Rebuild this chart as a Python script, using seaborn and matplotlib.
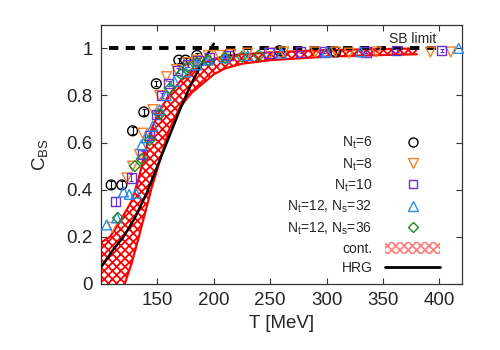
import matplotlib

matplotlib.use("Agg")
import matplotlib.pyplot as plt
from matplotlib.lines import Line2D
from matplotlib.patches import Patch
import numpy as np
import pandas as pd
import seaborn as sns

# --- data ------------------------------------------------------------------
nt6_T = [109, 118.5, 128, 138, 149, 169, 175, 185, 214, 258, 308]
nt6_C = [0.42, 0.42, 0.65, 0.73, 0.85, 0.95, 0.95, 0.97, 0.98, 0.99, 0.985]
nt6_err = [0.015, 0.015, 0.015, 0.012, 0.01, 0.01, 0.01, 0.01, 0.008, 0.008, 0.008]

nt8_T = [110, 123, 128, 134, 137, 146, 152, 158, 167, 177, 185, 195, 205, 215,
         230, 250, 262, 290, 308, 320, 344, 392, 410]
nt8_C = [0.24, 0.45, 0.50, 0.55, 0.64, 0.74, 0.80, 0.88, 0.91, 0.94, 0.95, 0.97,
         0.97, 0.975, 0.98, 0.98, 0.985, 0.985, 0.985, 0.98, 0.985, 0.985, 0.985]

nt10_T = [113, 127, 137, 143, 149, 154, 160, 168, 177, 186, 196, 213, 249, 277,
          298, 335, 362, 402]
nt10_C = [0.35, 0.45, 0.55, 0.63, 0.72, 0.80, 0.85, 0.905, 0.93, 0.95, 0.96,
          0.97, 0.98, 0.985, 0.985, 0.985, 0.99, 0.99]
nt10_err = [0.02, 0.015, 0.015, 0.012, 0.012, 0.01, 0.01, 0.01, 0.01, 0.008,
            0.008, 0.008, 0.006, 0.006, 0.006, 0.006, 0.006, 0.006]

ns32_T = [105, 114, 120, 125, 131, 136, 140, 146, 152, 158, 165, 175, 185, 195,
          210, 230, 260, 300, 330, 417]
ns32_C = [0.25, 0.28, 0.39, 0.38, 0.385, 0.59, 0.62, 0.67, 0.74, 0.80, 0.86,
          0.90, 0.93, 0.95, 0.96, 0.97, 0.98, 0.985, 0.985, 1.0]

ns36_T = [115, 130, 136, 143, 152, 161, 171, 177, 185, 195, 210, 225, 240]
ns36_C = [0.28, 0.50, 0.53, 0.61, 0.72, 0.83, 0.89, 0.92, 0.94, 0.95, 0.96,
          0.965, 0.97]

band_T = [100, 108, 115, 121, 127, 133, 139, 145, 152, 160, 170, 180, 190, 200,
          210, 225, 250, 300, 350, 380]
band_hi = [0.175, 0.20, 0.25, 0.30, 0.35, 0.44, 0.56, 0.66, 0.735, 0.80, 0.86,
           0.90, 0.935, 0.955, 0.968, 0.975, 0.983, 0.993, 0.997, 1.0]
band_lo = [-0.25, -0.15, -0.06, 0.0, 0.085, 0.19, 0.30, 0.41, 0.52, 0.65, 0.75,
           0.81, 0.85, 0.89, 0.915, 0.935, 0.95, 0.965, 0.972, 0.975]

hrg_T = [100, 110, 120, 130, 140, 150, 160, 170, 180, 190, 200]
hrg_C = [0.07, 0.14, 0.20, 0.28, 0.38, 0.50, 0.62, 0.74, 0.85, 0.94, 1.02]

sb_T = [107, 400]
sb_C = [1.0, 1.0]

x_ticks = [100, 150, 200, 250, 300, 350, 400]
x_ticklabels = ["", "150", "200", "250", "300", "350", "400"]
y_ticks = [0, 0.2, 0.4, 0.6, 0.8, 1.0]
y_ticklabels = ["0", "0.2", "0.4", "0.6", "0.8", "1"]

# --- style ------------------------------------------------------------------
sns.set_theme(style="ticks")
plt.rcParams["font.family"] = ["Liberation Sans", "DejaVu Sans"]
plt.rcParams["mathtext.fontset"] = "custom"
plt.rcParams["mathtext.rm"] = "Liberation Sans"
plt.rcParams["mathtext.it"] = "Liberation Sans"
plt.rcParams["hatch.linewidth"] = 1.3

fig = plt.figure(figsize=(5, 3.5), dpi=100)
ax = fig.add_axes([0.202, 0.189, 0.722, 0.740])

# continuum band
ax.fill_between(band_T, band_lo, band_hi, facecolor="white", edgecolor="red",
                hatch="xxxx", linewidth=0, zorder=2)
ax.plot(band_T, band_hi, color="red", lw=1.6, zorder=2)
ax.plot(band_T, band_lo, color="red", lw=1.6, zorder=2)

# SB limit and HRG
ax.plot(sb_T, sb_C, color="black", lw=2.8, ls=(0, (2.4, 1.9)), zorder=3)
sns.lineplot(x=hrg_T, y=hrg_C, color="black", lw=1.8, ax=ax, zorder=4)

series = [
    (nt6_T, nt6_C, nt6_err, "o", "black", 50),
    (nt8_T, nt8_C, None, "v", "#f58025", 50),
    (nt10_T, nt10_C, nt10_err, "s", "#6a2fd6", 45),
    (ns32_T, ns32_C, None, "^", "#2a8cf0", 50),
    (ns36_T, ns36_C, None, "D", "#1f8a2a", 30),
]
for T, C, err, mk, col, size in series:
    df = pd.DataFrame({"T": T, "C": C})
    if err is not None:
        ax.errorbar(T, C, yerr=err, fmt="none", ecolor=col, elinewidth=0.8,
                    capsize=1.5, capthick=0.8, zorder=5)
    sns.scatterplot(data=df, x="T", y="C", marker=mk, s=size, facecolor="none",
                    edgecolor=col, linewidth=1.0, ax=ax, zorder=5, clip_on=False)

ax.text(376, 1.04, "SB limit", fontsize=10, ha="center", va="center")

ax.set_xlim(100, 420)
ax.set_ylim(0, 1.1)
ax.set_xticks(x_ticks)
ax.set_xticklabels(x_ticklabels)
ax.set_yticks(y_ticks)
ax.set_yticklabels(y_ticklabels)
ax.tick_params(direction="in", length=4, width=0.8, color="#333333",
               labelsize=13.5, top=True, right=True, pad=6)
for sp in ax.spines.values():
    sp.set_color("#333333")
    sp.set_linewidth(0.9)
ax.set_xlabel("T [MeV]", fontsize=13.5, labelpad=4)
ax.set_ylabel("C$_{\\mathrm{BS}}$", fontsize=13.5, labelpad=12)

handles = [
    Line2D([], [], ls="none", marker="o", mfc="none", mec="black", ms=6.5, mew=1.0),
    Line2D([], [], ls="none", marker="v", mfc="none", mec="#f58025", ms=6.5, mew=1.0),
    Line2D([], [], ls="none", marker="s", mfc="none", mec="#6a2fd6", ms=6, mew=1.0),
    Line2D([], [], ls="none", marker="^", mfc="none", mec="#2a8cf0", ms=6.5, mew=1.0),
    Line2D([], [], ls="none", marker="D", mfc="none", mec="#1f8a2a", ms=5, mew=1.0),
    Patch(facecolor="white", edgecolor="#ff8080", hatch="xxxx", lw=0),
    Line2D([], [], color="black", lw=2),
]
labels = ["N$_t$=6", "N$_t$=8", "N$_t$=10", "N$_t$=12, N$_s$=32",
          "N$_t$=12, N$_s$=36", "cont.", "HRG"]
ax.legend(handles, labels, loc="lower right", bbox_to_anchor=(0.94, 0.035),
          frameon=False, fontsize=10, markerfirst=False, handlelength=4,
          handleheight=0.9, handletextpad=0.9, labelspacing=0.36,
          borderpad=0, borderaxespad=0)

fig.savefig("out.png", dpi=100)
